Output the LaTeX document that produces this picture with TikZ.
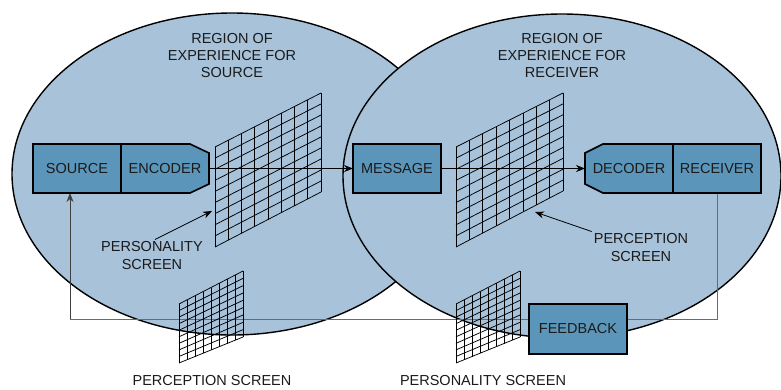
\documentclass[tikz,border=0pt]{standalone}
\usepackage{fontspec}
\setmainfont{Liberation Sans}
\usetikzlibrary{arrows.meta,calc}
\pgfdeclarelayer{bg}
\pgfdeclarelayer{mid}
\pgfsetlayers{bg,mid,main}
\definecolor{regionblue}{HTML}{A7C2D9}
\definecolor{boxblue}{HTML}{5B96BA}
\definecolor{inktext}{HTML}{1A1A1A}
\definecolor{fbgray}{HTML}{6A6A6A}
\tikzset{
  txt/.style={font=\fontsize{14.5}{17.3}\selectfont, text=inktext, align=center, inner sep=0pt},
  boxtext/.style={txt, minimum width=88pt, minimum height=49pt, outer sep=0pt},
  plainbox/.style={boxtext, fill=boxblue, draw=black, line width=1.6pt},
  chamfer/.style={fill=boxblue, draw=black, line width=1.6pt, line join=miter},
  region/.style={fill=regionblue, draw=black, line width=1.4pt},
  conn/.style={draw=black, line width=0.8pt, -{Stealth[length=9pt,width=7pt]}},
  fbline/.style={draw=fbgray, line width=0.9pt},
  gridline/.style={draw=black, line width=0.75pt},
}
\newcommand{\screengrid}[6]{%
  \foreach \i in {0,...,#5} {\draw[gridline] ($(#1)!\i/#5!(#4)$) -- ($(#2)!\i/#5!(#3)$);}
  \foreach \j in {0,...,#6} {\draw[gridline] ($(#1)!\j/#6!(#2)$) -- ($(#4)!\j/#6!(#3)$);}
}
\begin{document}
\begin{tikzpicture}[x=1pt,y=-1pt]
\useasboundingbox (0,0) rectangle (781,389);

% boxes
\node[plainbox] (src) at (77,168.5) {SOURCE};
\node[boxtext] (enc) at (165,168.5) {ENCODER};
\node[plainbox] (msg) at (397,168.5) {MESSAGE};
\node[boxtext] (dec) at (629,168.5) {DECODER};
\node[plainbox] (rcv) at (717,168.5) {RECEIVER};
\node[plainbox, minimum width=98pt, minimum height=50pt] (fb) at (578,329) {FEEDBACK};

% texts
\node[txt] (regsrc) at (232,55.5) {REGION OF\\EXPERIENCE FOR\\SOURCE};
\node[txt] (regrcv) at (562,55.5) {REGION OF\\EXPERIENCE FOR\\RECEIVER};
\node[txt, inner sep=2pt] (perslbl) at (152,255.5) {PERSONALITY\\SCREEN};
\node[txt, inner sep=2pt] (perclbl) at (641,247.5) {PERCEPTION\\SCREEN};
\node[txt] (botperc) at (212,380) {PERCEPTION SCREEN};
\node[txt] (botpers) at (483,380) {PERSONALITY SCREEN};

% chamfered boxes
\begin{pgfonlayer}{mid}
\path[chamfer] (enc.north west) -- ([xshift=-19pt]enc.north east) -- ([yshift=-9pt]enc.north east)
  -- ([yshift=9pt]enc.south east) -- ([xshift=-19pt]enc.south east) -- (enc.south west) -- cycle;
\path[chamfer] (dec.north east) -- ([xshift=18pt]dec.north west) -- ([yshift=-9pt]dec.north west)
  -- ([yshift=9pt]dec.south west) -- ([xshift=18pt]dec.south west) -- (dec.south east) -- cycle;
\end{pgfonlayer}

\begin{pgfonlayer}{bg}
\path[region] (232,174) ellipse [x radius=220pt, y radius=161pt];
\path[region] (562,176) ellipse [x radius=219pt, y radius=162pt];

% grid corners
\coordinate (g1bl) at (215,247); \coordinate (g1tl) at (215,147);
\coordinate (g1tr) at (321,93);  \coordinate (g1br) at (321,192);
\coordinate (g2bl) at (456,247); \coordinate (g2tl) at (456,147);
\coordinate (g2tr) at (563,93);  \coordinate (g2br) at (563,191);
\coordinate (g3bl) at (179,363); \coordinate (g3tl) at (179,304);
\coordinate (g3tr) at (243,271); \coordinate (g3br) at (243,337);
\coordinate (g4bl) at (456,363); \coordinate (g4tl) at (456,304);
\coordinate (g4tr) at (520,271); \coordinate (g4br) at (520,337);

% connectors
\coordinate (fbr) at (717,319);
\coordinate (fbl) at (70,319);
\draw[fbline] (rcv.south) -- (fbr) -- (fbl);
\draw[fbline, -{Stealth[length=9pt,width=7pt]}, color=black!75] (fbl) -- (fbl |- src.south);

\screengrid{g1bl}{g1tl}{g1tr}{g1br}{8}{9}
\screengrid{g2bl}{g2tl}{g2tr}{g2br}{8}{9}
\screengrid{g3bl}{g3tl}{g3tr}{g3br}{8}{9}
\screengrid{g4bl}{g4tl}{g4tr}{g4br}{8}{9}

\draw[conn] (enc.east) -- (msg.west);
\draw[conn] (msg.east) -- (dec.west);

\coordinate (ptip) at (212,211);
\coordinate (qtip) at (535,212);
\draw[conn] ([xshift=3pt]perslbl.north) -- (ptip);
\draw[conn] (perclbl.north west) -- (qtip);
\end{pgfonlayer}
\end{tikzpicture}
\end{document}
